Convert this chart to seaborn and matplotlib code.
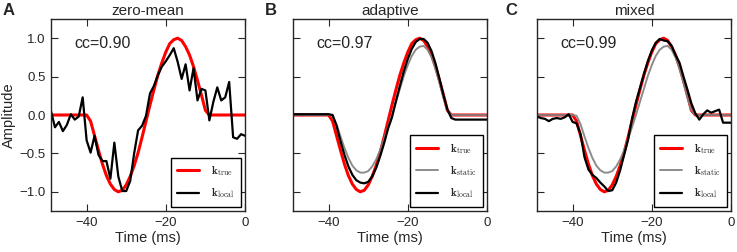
import matplotlib
matplotlib.use("Agg")
from matplotlib import pyplot as plt
import pandas as pd
import seaborn as sns

# time axis (ms), one sample per ms
time_ms = list(range(-49, 1))

k_true = [0.0, 0.0, 0.0, 0.0, 0.0, 0.0, 0.0, 0.0, 0.0, 0.0,
          -0.08, -0.27, -0.46, -0.64, -0.79, -0.90, -0.97, -1.00, -0.98, -0.91,
          -0.80, -0.66, -0.49, -0.29, -0.08, 0.13, 0.33, 0.52, 0.68, 0.82,
          0.93, 0.98, 1.00, 0.97, 0.89, 0.78, 0.63, 0.45, 0.26, 0.06,
          0.0, 0.0, 0.0, 0.0, 0.0, 0.0, 0.0, 0.0, 0.0, 0.0]

# zero-mean panel
k_local_a = [0.05, -0.16, -0.09, -0.21, -0.13, 0.01, -0.06, -0.02, 0.23, -0.33,
             -0.49, -0.27, -0.52, -0.60, -0.60, -0.83, -0.36, -0.80, -0.99, -0.99,
             -0.86, -0.50, -0.20, -0.14, -0.01, 0.28, 0.38, 0.52, 0.63, 0.70,
             0.78, 0.87, 0.69, 0.47, 0.66, 0.32, 0.61, 0.19, 0.34, 0.32,
             -0.07, 0.17, 0.36, 0.19, 0.23, 0.43, -0.29, -0.31, -0.25, -0.27]

# adaptive panel
k_static = [0.0, 0.0, 0.0, 0.0, 0.0, 0.0, 0.0, 0.0, 0.0, 0.0,
            -0.01, -0.12, -0.28, -0.43, -0.56, -0.66, -0.72, -0.75, -0.75, -0.73,
            -0.67, -0.58, -0.46, -0.31, -0.16, 0.0, 0.17, 0.34, 0.51, 0.65,
            0.77, 0.85, 0.89, 0.90, 0.85, 0.75, 0.60, 0.42, 0.22, 0.06,
            0.0, 0.0, 0.0, 0.0, 0.0, 0.0, 0.0, 0.0, 0.0, 0.0]

k_local_b = [0.01, 0.01, 0.01, 0.01, 0.01, 0.01, 0.01, 0.01, 0.01, 0.01,
             0.0, -0.14, -0.34, -0.52, -0.67, -0.78, -0.85, -0.88, -0.89, -0.87,
             -0.80, -0.69, -0.54, -0.37, -0.18, -0.03, 0.18, 0.38, 0.57, 0.73,
             0.86, 0.95, 0.99, 0.99, 0.94, 0.83, 0.67, 0.47, 0.26, 0.07,
             -0.04, -0.06, -0.06, -0.06, -0.06, -0.06, -0.06, -0.06, -0.06, -0.06]

# mixed panel
k_local_c = [-0.02, -0.04, -0.05, -0.08, -0.05, -0.04, -0.05, -0.03, 0.01, -0.09,
             -0.11, -0.25, -0.55, -0.71, -0.78, -0.82, -0.88, -0.93, -0.99, -0.98,
             -0.88, -0.72, -0.52, -0.32, -0.05, 0.17, 0.35, 0.53, 0.70, 0.84,
             0.94, 0.99, 0.97, 0.96, 0.90, 0.78, 0.68, 0.50, 0.33, 0.15,
             0.02, -0.06, 0.01, 0.06, 0.03, 0.05, 0.07, -0.10, -0.10, -0.10]

panel_titles = ['zero-mean', 'adaptive', 'mixed']
panel_letters = ['A', 'B', 'C']
cc_labels = ['cc=0.90', 'cc=0.97', 'cc=0.99']

sns.set_style("ticks")
plt.rcParams['font.family'] = ['Liberation Sans', 'DejaVu Sans']
plt.rcParams['mathtext.fontset'] = 'cm'
plt.rcParams['xtick.direction'] = 'in'
plt.rcParams['ytick.direction'] = 'in'

df = pd.DataFrame({'t': time_ms, 'true': k_true, 'local_a': k_local_a,
                   'static': k_static, 'local_b': k_local_b, 'local_c': k_local_c})

fig = plt.figure(figsize=(7.37, 2.52), dpi=100)
lefts = [51 / 737, 293 / 737, 537 / 737]
axes = [fig.add_axes([l, 41 / 252, 194 / 737, 192 / 252]) for l in lefts]

lab_true = r'$\mathbf{k}_{\rm true}$'
lab_static = r'$\mathbf{k}_{\rm static}$'
lab_local = r'$\mathbf{k}_{\rm local}$'

for i, ax in enumerate(axes):
    sns.lineplot(data=df, x='t', y='true', ax=ax, color='red', lw=2.2, label=lab_true)
    if i > 0:
        sns.lineplot(data=df, x='t', y='static', ax=ax, color='#808080', lw=1.4,
                     label=lab_static, alpha=0.9)
    local_col = ['local_a', 'local_b', 'local_c'][i]
    sns.lineplot(data=df, x='t', y=local_col, ax=ax, color='black', lw=1.6, label=lab_local)

    ax.set_xlim(-49, 0)
    ax.set_ylim(-1.25, 1.25)
    ax.set_xticks([-40, -20, 0])
    ax.set_yticks([-1.0, -0.5, 0.0, 0.5, 1.0])
    ax.tick_params(top=True, right=True, length=5, width=0.8, labelsize=9.5, pad=4)
    for s in ax.spines.values():
        s.set_linewidth(1.0)
    ax.set_xlabel('Time (ms)', fontsize=10.5, labelpad=2)
    if i == 0:
        ax.set_ylabel('Amplitude', fontsize=10.5, labelpad=2)
    else:
        ax.set_ylabel('')
        ax.set_yticklabels([])
    ax.set_title(panel_titles[i], fontsize=11, pad=3)
    ax.text(0.12, 0.875, cc_labels[i], transform=ax.transAxes, fontsize=11.5, va='center')
    leg = ax.legend(loc='lower right', fontsize=8, frameon=True, fancybox=False,
                    borderaxespad=0.35, handlelength=1.9, handletextpad=1.1,
                    labelspacing=0.75, borderpad=0.6)
    leg.get_frame().set_edgecolor('black')
    leg.get_frame().set_linewidth(1.0)
    leg.get_frame().set_alpha(1)

letter_x = [3 / 737, 265 / 737, 505 / 737]
for lx, letter in zip(letter_x, panel_letters):
    fig.text(lx, 0.99, letter, fontsize=12, fontweight='bold', va='top')

fig.savefig('out.png', dpi=100)
